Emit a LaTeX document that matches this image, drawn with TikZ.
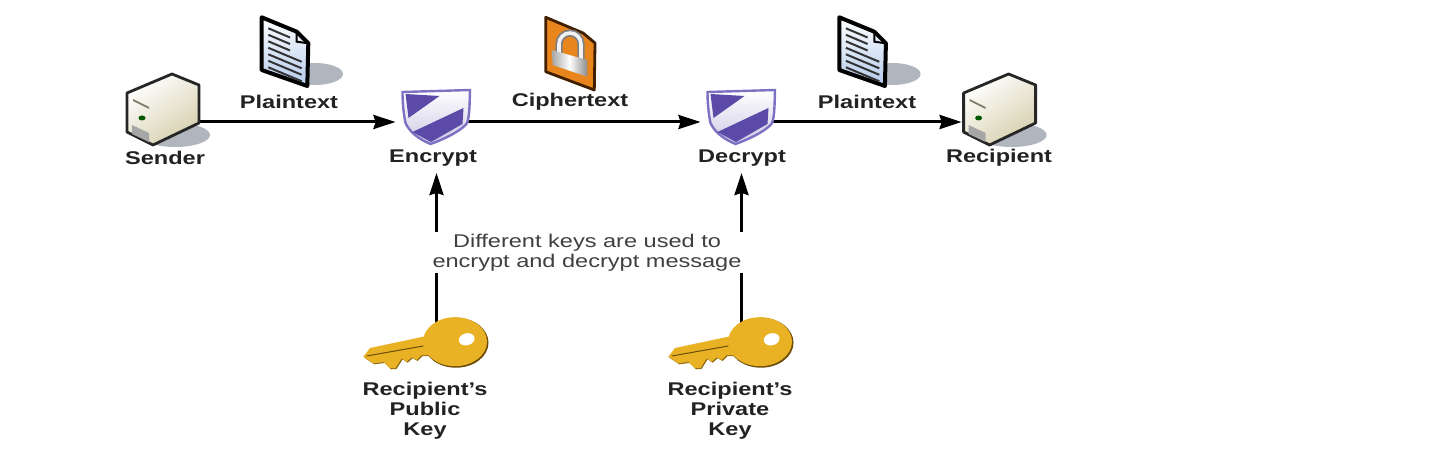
\documentclass[tikz,border=0pt]{standalone}
\usepackage{fontspec}
\setmainfont[FakeStretch=1.28]{Liberation Sans}
\usetikzlibrary{arrows.meta}
\definecolor{shadowgrey}{HTML}{B0B5BE}
\definecolor{boxcream}{HTML}{D6D0AE}
\definecolor{shieldpurple}{HTML}{5B4AA8}
\definecolor{shieldedge}{HTML}{7C72C4}
\definecolor{pageblue}{HTML}{B4CAEC}
\definecolor{cipherorange}{HTML}{E8851C}
\definecolor{keygold}{HTML}{E9B224}
\definecolor{keyedge}{HTML}{6A4C08}
\definecolor{inkgrey}{HTML}{222222}
\tikzset{
   flow/.style={-{Stealth[length=11pt,width=7pt,inset=1pt]}, line width=1.5pt, color=black},
   iconbox/.style={inner sep=0pt, outer sep=0pt, minimum width=#1*0.5pt, minimum height=23pt},
   caption/.style={inner sep=0pt, outer sep=0pt, minimum height=15pt, align=center,
      font=\fontsize{9.2}{10}\selectfont\bfseries, text=inkgrey},
   boxpic/.pic={
      \fill[shadowgrey] (12,-13) ellipse [x radius=35, y radius=12];
      \path[draw=black!85, line width=1.4pt, line join=round, top color=white, bottom color=boxcream, shading angle=35]
         (9,48) -- (36,37) -- (36,-1) -- (-10,-23) -- (-36,-10) -- (-36,29) -- cycle;
      \fill[boxcream!60!black] (-30,23) -- (-14,15) -- (-14,13) -- (-30,21) -- cycle;
      \fill[green!35!black] (-21,4) ellipse [x radius=3.5, y radius=2.5];
      \fill[black!35] (-31,-3) -- (-14,-11) -- (-14,-20) -- (-31,-12) -- cycle;
   },
   pagepic/.pic={
      \fill[shadowgrey] (30,-22) ellipse [x radius=28, y radius=11];
      \path[draw=black, line width=2pt, line join=round, top color=white, bottom color=pageblue]
         (-23.3,34.7) -- (11.7,20.3) -- (23.3,8.7) -- (22.3,-34) -- (-23.3,-18) -- cycle;
      \draw[line width=1pt] (11.7,20.3) -- (11.7,10.3) -- (23.3,8.7);
      \foreach \i in {0,1,2} \draw[line width=1pt, color=black!80] (-16.7,23.7-6.5*\i) -- (5,14.5-6.5*\i);
      \foreach \i in {3,4,5,6} \draw[line width=1pt, color=black!80] (-16.7,23.7-6.5*\i) -- (16.7,9.7-6.5*\i);
   },
   cipherpic/.pic={
      \path[draw=black!75!orange, line width=1.4pt, line join=round, fill=cipherorange]
         (-24.3,34.7) -- (13,19) -- (25,9) -- (24.3,-38) -- (-24.3,-19.7) -- cycle;
      \draw[line width=3.6pt, color=black!50] (-11,-3) -- (-11,8) arc [start angle=180, end angle=0, radius=11] -- (11,-8);
      \draw[line width=1.8pt, color=black!5] (-11,-3) -- (-11,8) arc [start angle=180, end angle=0, radius=11] -- (11,-8);
      \path[left color=black!35, right color=black!45, middle color=white]
         (-18.3,2) -- (17.3,-8) -- (17.3,-24.7) -- (-17.3,-13) -- cycle;
   },
   shieldpic/.pic={
      \path[draw=shieldedge, line width=1.2pt, bottom color=white!70!shieldpurple, top color=white]
         (-34,30) -- (33.5,32) .. controls (33,15) and (33,0) .. (29,-3)
         .. controls (22,-10) and (8,-17) .. (-6,-22) .. controls (-18,-17) and (-27,-10) .. (-31,-1)
         .. controls (-33,8) and (-34,20) .. cycle;
      \fill[shieldpurple] (-31,28) -- (3,26) -- (-28,4) -- cycle;
      \fill[shieldpurple] (27,14) -- (26,-2) -- (-5.5,-20) -- (-24,-10) -- cycle;
   },
   keypic/.pic={
      \def\keyoutline{(-10,5) -- (-66.5,-7) -- (-73.2,-15.7) -- (-63.2,-22.3) -- (-53,-21) -- (-46.5,-27.3)
         -- (-41,-27) -- (-34.8,-17.3) -- (-29.8,-20.7) -- (-24.8,-16.3) -- (-19.8,-19) -- (-14.8,-14) -- (-6.5,-14) -- cycle}
      \fill[keyedge!70!keygold, xshift=0.5pt, yshift=-0.5pt] \keyoutline;
      \fill[keyedge] (19.5,-1.7) ellipse [x radius=32.5, y radius=25];
      \fill[keygold] \keyoutline;
      \fill[keygold] (18.5,-0.7) ellipse [x radius=32, y radius=24.5];
      \draw[line width=0.5pt, color=keyedge] (-69.8,-15) -- (-13.2,-5);
      \fill[white, rotate around={15:(30.2,1.7)}] (30.2,1.7) ellipse [x radius=8, y radius=6];
   }
}
\begin{document}
\begin{tikzpicture}[x=0.5pt, y=0.5pt]
   \useasboundingbox (0,0) rectangle (1438,-454);
   \node [iconbox=76] (sender) at (163,-122) {};
   \node [iconbox=82] (encrypt) at (436.5,-122) {};
   \node [iconbox=82] (decrypt) at (741.5,-122) {};
   \node [iconbox=76] (recipient) at (999.6,-122) {};
   \node [iconbox=46] (pubkey) at (436.5,-341) {};
   \node [iconbox=46] (privkey) at (741.5,-341) {};
   \node [caption] (senderlabel) at (165,-158) {Sender};
   \node [caption] (encryptlabel) at (433,-158) {Encrypt};
   \node [caption] (decryptlabel) at (742,-158) {Decrypt};
   \node [caption] (recipientlabel) at (999,-158) {Recipient};
   \draw[flow] (sender.center) -- (encrypt.west);
   \draw[flow] (encrypt.center) -- (decrypt.west);
   \draw[flow] (decrypt.center) -- (recipient.west);
   \draw[flow] (pubkey.center) -- (pubkey.center |- encryptlabel.south);
   \draw[flow] (privkey.center) -- (privkey.center |- decryptlabel.south);
   \pic at (sender) {boxpic};
   \pic at (recipient) {boxpic};
   \pic at (encrypt) {shieldpic};
   \pic at (decrypt) {shieldpic};
   \pic at (pubkey) {keypic};
   \pic at (privkey) {keypic};
   \pic at (285,-52) {pagepic};
   \pic at (570,-52) {cipherpic};
   \pic at (862.6,-52) {pagepic};
   \node [caption] (plainleft) at (289,-101.5) {Plaintext};
   \node [caption] (cipherlabel) at (570,-101.5) {Ciphertext};
   \node [caption] (plainright) at (867,-101.5) {Plaintext};
   \node [caption] (pubkeylabel) at (425,-410.5) {Recipient's\\Public\\Key};
   \node [caption] (privkeylabel) at (730,-410.5) {Recipient's\\Private\\Key};
   \node [fill=white, inner xsep=3pt, inner ysep=1pt, align=center, text=black!75,
      font=\fontsize{9.2}{10}\selectfont] (note) at (587,-252.5) {Different keys are used to\\encrypt and decrypt message};
\end{tikzpicture}
\end{document}
